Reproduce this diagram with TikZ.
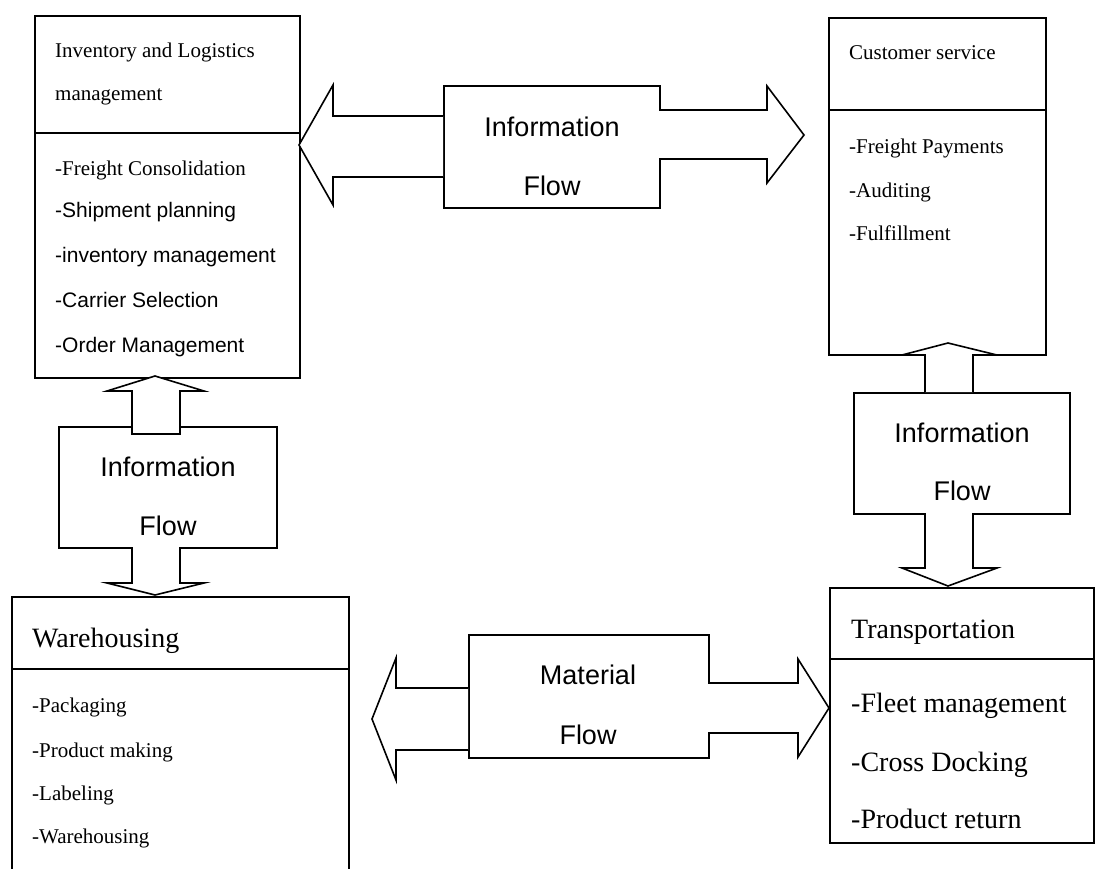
\documentclass[tikz,border=0pt]{standalone}
\usepackage{fontspec}
\setmainfont{Liberation Serif}
\setsansfont{Liberation Sans}
\tikzset{
  box/.style={draw, line width=1.6pt, inner sep=0pt, anchor=north west},
  lbl/.style={inner sep=0pt, anchor=base west},
  ctr/.style={inner sep=0pt, anchor=base},
  serifS/.style={font=\fontsize{21}{25}\selectfont},
  sansS/.style={font=\sffamily\fontsize{21}{25}\selectfont},
  serifL/.style={font=\fontsize{28}{32}\selectfont},
  flowtxt/.style={font=\sffamily\fontsize{27}{31}\selectfont},
  blockarrow/.style={draw, line width=1.6pt, fill=white, line join=miter},
  divider/.style={line width=1.6pt}
}
\begin{document}
\begin{tikzpicture}[x=1pt,y=-1pt]
\useasboundingbox (0,0) rectangle (1095,868);
\clip (0,0) rectangle (1095,868);
\fill[white] (0,0) rectangle (1095,868);

% boxes
\node[box, minimum width=265pt, minimum height=362pt] (inv) at (34,15) {};
\node[box, minimum width=217pt, minimum height=337pt] (cust) at (828,17) {};
\node[box, minimum width=337pt, minimum height=304pt] (wh) at (11,596) {};
\node[box, minimum width=264pt, minimum height=255pt] (tr) at (829,587) {};
\node[box, minimum width=216pt, minimum height=122pt] (info1) at (443,85) {};
\node[box, minimum width=218pt, minimum height=121pt] (info2) at (58,426) {};
\node[box, minimum width=216pt, minimum height=121pt] (info3) at (853,392) {};
\node[box, minimum width=240pt, minimum height=123pt] (mat) at (468,634) {};

% dividers
\coordinate (invd) at (34,133);
\coordinate (custd) at (828,110);
\coordinate (whd) at (11,669);
\coordinate (trd) at (829,659);
\draw[divider] (invd) -- (invd -| inv.east);
\draw[divider] (custd) -- (custd -| cust.east);
\draw[divider] (whd) -- (whd -| wh.east);
\draw[divider] (trd) -- (trd -| tr.east);

% Inventory texts
\node[lbl, serifS] (t1) at (55,57) {Inventory and Logistics};
\node[lbl, serifS] (t2) at (55,100) {management};
\node[lbl, serifS] (i1) at (55,175) {-Freight Consolidation};
\node[lbl, sansS] (i2) at (55,217) {-Shipment planning};
\node[lbl, sansS] (i3) at (55,262) {-inventory management};
\node[lbl, sansS] (i4) at (55,307) {-Carrier Selection};
\node[lbl, sansS] (i5) at (55,352) {-Order Management};

% Customer texts
\node[lbl, serifS] (c0) at (849,59) {Customer service};
\node[lbl, serifS] (c1) at (849,153) {-Freight Payments};
\node[lbl, serifS] (c2) at (849,197) {-Auditing};
\node[lbl, serifS] (c3) at (849,240) {-Fulfillment};

% Warehousing texts
\node[lbl, serifL] (w0) at (32,647) {Warehousing};
\node[lbl, serifS] (w1) at (32,712) {-Packaging};
\node[lbl, serifS] (w2) at (32,757) {-Product making};
\node[lbl, serifS] (w3) at (32,800) {-Labeling};
\node[lbl, serifS] (w4) at (32,843) {-Warehousing};

% Transportation texts
\node[lbl, serifL] (r0) at (851,638) {Transportation};
\node[lbl, serifL] (r1) at (851,712) {-Fleet management};
\node[lbl, serifL] (r2) at (851,771) {-Cross Docking};
\node[lbl, serifL] (r3) at (851,828) {-Product return};

% Flow texts
\node[ctr, flowtxt] (f1a) at (552,136) {Information};
\node[ctr, flowtxt] (f1b) at (552,195) {Flow};
\node[ctr, flowtxt] (f2a) at (168,476) {Information};
\node[ctr, flowtxt] (f2b) at (168,535) {Flow};
\node[ctr, flowtxt] (f3a) at (962,442) {Information};
\node[ctr, flowtxt] (f3b) at (962,500) {Flow};
\node[ctr, flowtxt] (f4a) at (588,684) {Material};
\node[ctr, flowtxt] (f4b) at (588,744) {Flow};

% top horizontal arrows
\draw[blockarrow] (443,116) -- (333,116) -- (333,85) -- (299,145) -- (333,205) -- (333,177) -- (443,177);
\draw[blockarrow] (659,110) -- (767,110) -- (767,86) -- (804,135) -- (767,183) -- (767,159) -- (659,159);

% material arrows
\draw[blockarrow] (468,688) -- (396,688) -- (396,658) -- (372,719) -- (396,780) -- (396,750) -- (468,750);
\draw[blockarrow] (708,683) -- (798,683) -- (798,659) -- (829,708) -- (798,757) -- (798,733) -- (708,733);

% left vertical arrows
\draw[blockarrow] (132,434) -- (132,391) -- (107,391) -- (155,376) -- (204,391) -- (180,391) -- (180,434) -- cycle;
\draw[blockarrow] (132,547) -- (132,583) -- (107,583) -- (155,595) -- (204,583) -- (180,583) -- (180,547);

% right vertical arrows
\draw[blockarrow] (925,392) -- (925,355) -- (902,355) -- (948,343) -- (997,355) -- (973,355) -- (973,392);
\draw[blockarrow] (925,513) -- (925,568) -- (902,568) -- (948,586) -- (997,568) -- (973,568) -- (973,513);
\end{tikzpicture}
\end{document}
